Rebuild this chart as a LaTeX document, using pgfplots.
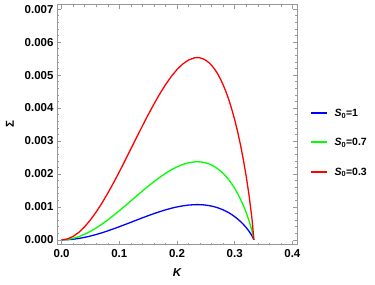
\documentclass[border=0pt]{standalone}
\usepackage{fontspec}
\setmainfont{Liberation Sans}
\usepackage{pgfplots}
\usepackage{pgfplotstable}
\pgfplotsset{compat=1.18}
\definecolor{framegray}{gray}{0.6}
\definecolor{cblue}{rgb}{0,0,1}
\definecolor{cgreen}{rgb}{0,1,0}
\definecolor{cred}{rgb}{1,0,0}
\pgfplotstableread{
K blue green red
0 0 0 0
0.01 0.005 0.012 0.027
0.02 0.020 0.045 0.106
0.03 0.045 0.099 0.231
0.04 0.077 0.171 0.400
0.05 0.117 0.260 0.607
0.06 0.164 0.364 0.848
0.07 0.216 0.479 1.119
0.08 0.274 0.606 1.415
0.09 0.335 0.742 1.731
0.10 0.399 0.884 2.064
0.11 0.466 1.031 2.407
0.12 0.533 1.181 2.757
0.13 0.601 1.332 3.108
0.14 0.669 1.481 3.455
0.15 0.734 1.626 3.795
0.16 0.797 1.765 4.118
0.17 0.856 1.896 4.425
0.18 0.910 2.017 4.705
0.19 0.959 2.123 4.954
0.20 1.000 2.215 5.168
0.21 1.032 2.287 5.336
0.22 1.056 2.338 5.456
0.23 1.068 2.366 5.521
0.235 1.070 2.370 5.530
0.24 1.068 2.366 5.521
0.245 1.063 2.355 5.494
0.25 1.054 2.334 5.446
0.255 1.041 2.306 5.381
0.26 1.025 2.270 5.296
0.265 1.003 2.222 5.184
0.27 0.977 2.165 5.052
0.275 0.946 2.096 4.891
0.28 0.910 2.016 4.704
0.285 0.868 1.923 4.488
0.29 0.821 1.818 4.242
0.295 0.766 1.697 3.959
0.30 0.705 1.561 3.643
0.305 0.636 1.409 3.288
0.31 0.558 1.237 2.886
0.315 0.471 1.044 2.435
0.32 0.373 0.825 1.926
0.325 0.259 0.574 1.340
0.33 0.124 0.275 0.641
0.33333 0 0 0
}\datatable
\begin{document}
\begin{tikzpicture}
\useasboundingbox (-57pt,-40pt) rectangle (318pt,244.5pt);
\begin{axis}[
  scale only axis, width=240pt, height=240pt,
  at={(0pt,0pt)}, anchor=south west,
  xmin=-0.008, xmax=0.408, ymin=-0.14, ymax=7.14,
  xtick={0,0.1,0.2,0.3,0.4},
  xticklabels={0.0,0.1,0.2,0.3,0.4},
  ytick={0,1,2,3,4,5,6,7},
  yticklabels={0.000,0.001,0.002,0.003,0.004,0.005,0.006,0.007},
  minor x tick num=4, minor y tick num=4,
  scaled ticks=false,
  tick pos=both, ticklabel pos=left,
  tick align=inside,
  major tick length=4pt, minor tick length=2pt,
  axis line style={framegray, line width=0.6pt},
  every tick/.style={framegray, line width=0.5pt},
  ticklabel style={font=\bfseries\fontsize{11.5}{12}\selectfont, black},
  xticklabel style={yshift=-1pt},
  /pgf/number format/assume math mode=true,
  xlabel={\bfseries\itshape K},
  ylabel={\bfseries Σ},
  xlabel style={font=\fontsize{11.5}{12}\selectfont, at={(axis description cs:0.5,0)}, anchor=center, yshift=-28pt},
  ylabel style={font=\fontsize{11.5}{12}\selectfont, at={(axis description cs:0,0.5)}, anchor=center, rotate=0, yshift=47pt},
]
\addplot[draw=cblue, line width=1.3pt] table[x=K, y=blue] {\datatable};
\addplot[draw=cgreen, line width=1.3pt] table[x=K, y=green] {\datatable};
\addplot[draw=cred, line width=1.3pt] table[x=K, y=red] {\datatable};
\end{axis}
% legend keys
\fill[cblue] (254pt,130.3pt) rectangle (270.3pt,132.3pt);
\fill[cgreen] (254pt,101.3pt) rectangle (270.3pt,103.3pt);
\fill[cred] (254pt,72pt) rectangle (270.3pt,74pt);
\begin{scope}[every node/.style={font=\bfseries\fontsize{10.5}{11}\selectfont, inner sep=0pt, anchor=base west}]
\node at (277.3pt,127.6pt) {\textit{S}\textsubscript{0}=1};
\node at (277.3pt,98.6pt) {\textit{S}\textsubscript{0}=0.7};
\node at (277.3pt,69.3pt) {\textit{S}\textsubscript{0}=0.3};
\end{scope}
\end{tikzpicture}
\end{document}
